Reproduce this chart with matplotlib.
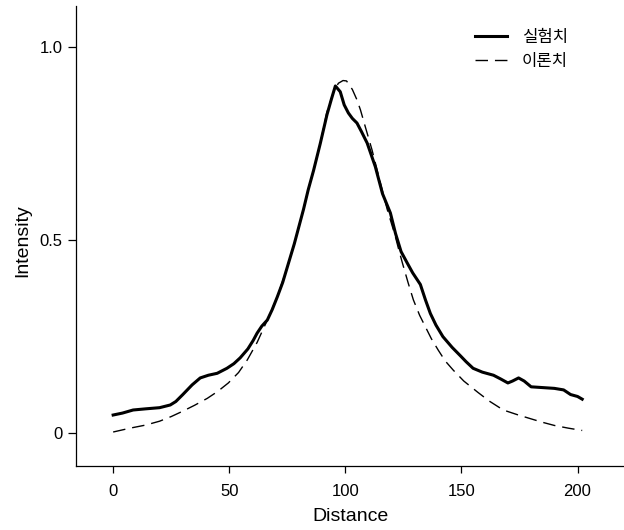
import numpy as np
import matplotlib
matplotlib.use('Agg')
import matplotlib.pyplot as plt

plt.rcParams['font.family'] = ['Liberation Sans', 'Noto Sans CJK KR']

# measured profile (solid)
exp_x = [0, 4, 8.6, 14, 20, 24.6, 27, 30, 34, 37.5, 41, 44.8, 49, 52, 54.7, 58,
         60.3, 62, 64, 66.4, 68.5, 70.7, 73, 75, 76.3, 78, 80, 82, 84, 86.3,
         89.2, 92.1, 94, 95.7, 97.8, 99.5, 101.3, 103, 105, 107, 109.4, 112.9,
         116, 119.4, 121.6, 124, 126.7, 129, 132.3, 134.5, 136.6, 139, 142, 146,
         149.6, 152, 155, 159, 163.8, 167, 170, 172, 174.6, 177, 180, 185, 190,
         194, 197, 200, 202]
exp_y = [0.047, 0.052, 0.060, 0.063, 0.066, 0.073, 0.082, 0.100, 0.125, 0.143,
         0.150, 0.155, 0.168, 0.180, 0.195, 0.218, 0.240, 0.259, 0.277, 0.293,
         0.320, 0.353, 0.390, 0.430, 0.456, 0.490, 0.535, 0.580, 0.630, 0.680,
         0.750, 0.825, 0.865, 0.899, 0.884, 0.850, 0.829, 0.815, 0.803, 0.780,
         0.751, 0.690, 0.620, 0.570, 0.517, 0.470, 0.440, 0.415, 0.385, 0.345,
         0.310, 0.280, 0.250, 0.222, 0.200, 0.185, 0.168, 0.158, 0.150, 0.140,
         0.130, 0.135, 0.143, 0.135, 0.120, 0.118, 0.116, 0.112, 0.100, 0.095,
         0.088]

# theoretical profile (dashed)
th_x = [0, 7.3, 14, 20, 25, 30, 35, 40.5, 45, 49.6, 54, 57.8, 62, 66.4, 70.7,
        75, 78, 80, 82, 84, 86.3, 89.2, 92, 95, 97, 99, 100.5, 103, 105, 106.5,
        108.6, 111.5, 115, 118, 121.5, 123, 124.6, 127, 129.3, 132, 134.5, 137,
        140, 143, 146.5, 151, 157, 162, 168, 174, 180, 185, 190, 196, 202]
th_y = [0.003, 0.013, 0.021, 0.031, 0.043, 0.057, 0.072, 0.090, 0.108, 0.130,
        0.157, 0.190, 0.235, 0.293, 0.353, 0.430, 0.490, 0.535, 0.580, 0.630,
        0.680, 0.750, 0.830, 0.885, 0.906, 0.913, 0.912, 0.890, 0.863, 0.837,
        0.793, 0.733, 0.650, 0.580, 0.510, 0.475, 0.440, 0.390, 0.345, 0.305,
        0.275, 0.245, 0.215, 0.187, 0.163, 0.135, 0.106, 0.083, 0.060, 0.048,
        0.037, 0.028, 0.020, 0.013, 0.007]

labels = ['실험치', '이론치']

fig = plt.figure(figsize=(6.24, 5.30), dpi=100)
ax = fig.add_axes([76/624, 64/530, 548/624, 460/530])

ax.plot(exp_x, exp_y, color='black', lw=2.2, label=labels[0])
ax.plot(th_x, th_y, color='black', lw=1.0, dashes=(9, 5), label=labels[1])

ax.set_xlim(-16, 220)
ax.set_ylim(-0.085, 1.106)
ax.set_xticks([0, 50, 100, 150, 200])
ax.set_yticks([0, 0.5, 1.0])
ax.set_yticklabels(['0', '0.5', '1.0'])

for s in ['top', 'right']:
    ax.spines[s].set_visible(False)
for s in ['left', 'bottom']:
    ax.spines[s].set_linewidth(0.9)

ax.tick_params(axis='x', direction='out', length=5, width=0.9, pad=8, labelsize=12)
ax.tick_params(axis='y', direction='out', length=6, width=0.9, pad=3.5, labelsize=12)

ax.set_xlabel('Distance', fontsize=14)
ax.set_ylabel('Intensity', fontsize=14)
ax.xaxis.set_label_coords(0.5, -0.092)
ax.yaxis.set_label_coords(-0.082, 0.49)

ax.legend(loc='upper left', bbox_to_anchor=(475/624, 1 - 30/530),
          bbox_transform=fig.transFigure, frameon=False, fontsize=12,
          borderpad=0, borderaxespad=0, handlelength=1.9,
          handletextpad=0.9, labelspacing=0.55)

fig.savefig('out.png', dpi=100)
